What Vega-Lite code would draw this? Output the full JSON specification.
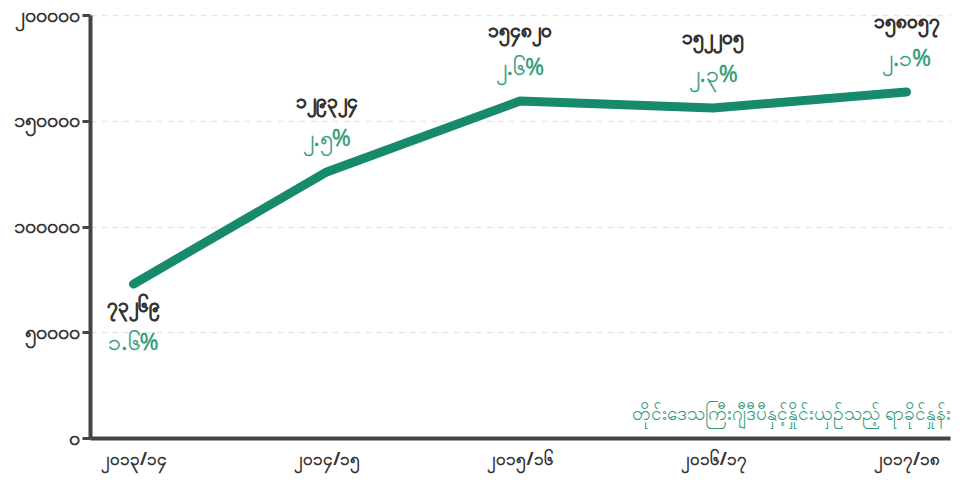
{
  "$schema": "https://vega.github.io/schema/vega-lite/v6.json",
  "width": 860,
  "height": 423,
  "autosize": "none",
  "padding": {"left": 90, "top": 15, "right": 11, "bottom": 52},
  "background": "white",
  "config": {"view": {"stroke": null}, "font": "Noto Sans"},
  "data": {"values": [
    {"year": "၂၀၁၃/၁၄", "value": 72800, "num": "၇၃၂၆၉", "pct": "၁.၆%", "pos": "below"},
    {"year": "၂၀၁၄/၁၅", "value": 125800, "num": "၁၂၉၃၂၄", "pct": "၂.၅%", "pos": "above"},
    {"year": "၂၀၁၅/၁၆", "value": 159300, "num": "၁၅၄၈၂၀", "pct": "၂.၆%", "pos": "above"},
    {"year": "၂၀၁၆/၁၇", "value": 156000, "num": "၁၅၂၂၀၅", "pct": "၂.၃%", "pos": "above"},
    {"year": "၂၀၁၇/၁၈", "value": 163600, "num": "၁၅၈၀၅၇", "pct": "၂.၁%", "pos": "above"}
  ]},
  "encoding": {
    "x": {"field": "year", "type": "ordinal", "scale": {"type": "point", "padding": 0.225}, "sort": null,
      "axis": {"title": null, "labelAngle": 0, "domainColor": "#444444", "domainWidth": 4, "ticks": false,
        "labelFontSize": 17, "labelFontWeight": "bold", "labelColor": "#333333", "labelPadding": 13}},
    "y": {"field": "value", "type": "quantitative", "scale": {"domain": [0, 200000], "nice": false},
      "axis": {"title": null, "values": [0, 50000, 100000, 150000, 200000],
        "labelExpr": "datum.value == 0 ? '၀' : datum.value == 50000 ? '၅၀၀၀၀' : datum.value == 100000 ? '၁၀၀၀၀၀' : datum.value == 150000 ? '၁၅၀၀၀၀' : '၂၀၀၀၀၀'",
        "domainColor": "#444444", "domainWidth": 4, "tickColor": "#444444", "tickWidth": 3, "tickSize": 8,
        "labelFontSize": 20, "labelFontWeight": "bold", "labelColor": "#333333", "labelPadding": 3,
        "grid": true, "gridColor": "#e6e6e6", "gridDash": [6, 5], "gridWidth": 1.5}}
  },
  "layer": [
    {"mark": {"type": "line", "color": "#178a6c", "strokeWidth": 9, "strokeCap": "round", "strokeJoin": "round"}},
    {"transform": [{"filter": "datum.pos == 'above'"}],
     "mark": {"type": "text", "dy": -70, "fontSize": 19, "fontWeight": "bold", "color": "#333333", "stroke": "#333333", "strokeWidth": 0.4},
     "encoding": {"text": {"field": "num"}}},
    {"transform": [{"filter": "datum.pos == 'above'"}],
     "mark": {"type": "text", "dy": -33, "fontSize": 23, "color": "#2e9a78", "stroke": "#2e9a78", "strokeWidth": 0.3},
     "encoding": {"text": {"field": "pct"}}},
    {"transform": [{"filter": "datum.pos == 'below'"}],
     "mark": {"type": "text", "dy": 22, "fontSize": 19, "fontWeight": "bold", "color": "#333333", "stroke": "#333333", "strokeWidth": 0.4},
     "encoding": {"text": {"field": "num"}}},
    {"transform": [{"filter": "datum.pos == 'below'"}],
     "mark": {"type": "text", "dy": 59, "fontSize": 23, "color": "#2e9a78", "stroke": "#2e9a78", "strokeWidth": 0.3},
     "encoding": {"text": {"field": "pct"}}},
    {"data": {"values": [{"year": "၂၀၁၇/၁၈", "value": 0, "src": "တိုင်းဒေသကြီးဂျီဒီပီနှင့်နှိုင်းယှဉ်သည့် ရာခိုင်နှုန်း"}]},
     "mark": {"type": "text", "align": "right", "dx": 44, "dy": -24, "fontSize": 19, "color": "#2e9a78"},
     "encoding": {"text": {"field": "src"}}}
  ]
}
